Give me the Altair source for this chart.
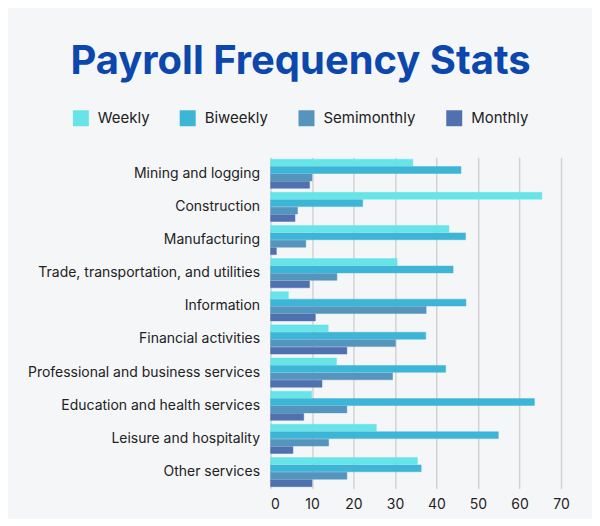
import altair as alt
import pandas as pd

industries = [
    "Mining and logging",
    "Construction",
    "Manufacturing",
    "Trade, transportation, and utilities",
    "Information",
    "Financial activities",
    "Professional and business services",
    "Education and health services",
    "Leisure and hospitality",
    "Other services",
]
series = ["Weekly", "Biweekly", "Semimonthly", "Monthly"]
weekly = [34.3, 65.4, 43.0, 30.5, 4.3, 13.9, 15.9, 9.9, 25.5, 35.4]
biweekly = [45.9, 22.2, 47.0, 44.0, 47.1, 37.4, 42.2, 63.6, 54.9, 36.3]
semimonthly = [10.0, 6.5, 8.5, 16.0, 37.5, 30.1, 29.4, 18.4, 14.0, 18.4]
monthly = [9.4, 5.9, 1.4, 9.4, 10.8, 18.4, 12.4, 8.0, 5.4, 10.0]
colors = ["#67e4e8", "#3db5d7", "#5595bd", "#4f71ae"]
x_ticks = [0, 10, 20, 30, 40, 50, 60, 70]

rows = []
for name, vals in zip(series, [weekly, biweekly, semimonthly, monthly]):
    for ind, v in zip(industries, vals):
        rows.append({"Industry": ind, "Frequency": name, "Value": v})
df = pd.DataFrame(rows)

font = "Inter"

chart = (
    alt.Chart(df)
    .mark_bar(strokeWidth=0.8, strokeOpacity=0.6)
    .encode(
        x=alt.X(
            "Value:Q",
            scale=alt.Scale(domain=[0, 77], nice=False),
            axis=alt.Axis(
                values=x_ticks,
                title=None,
                grid=True,
                gridColor="#d3d3d6",
                gridWidth=1.5,
                domain=False,
                ticks=False,
                labelPadding=9,
                labelFont=font,
                labelFontSize=14,
                labelColor="#222222",
            ),
        ),
        y=alt.Y(
            "Industry:N",
            sort=industries,
            scale=alt.Scale(paddingInner=0.12, paddingOuter=0.06),
            axis=alt.Axis(
                title=None,
                domain=False,
                ticks=False,
                labelPadding=11,
                labelFont=font,
                labelFontSize=14,
                labelColor="#222222",
                labelLimit=300,
            ),
        ),
        yOffset=alt.YOffset(
            "Frequency:N", sort=series, scale=alt.Scale(paddingInner=0.08)
        ),
        color=alt.Color(
            "Frequency:N",
            sort=series,
            scale=alt.Scale(domain=series, range=colors),
            legend=alt.Legend(
                title=None,
                orient="none",
                direction="horizontal",
                legendX=-198,
                legendY=-47,
                symbolType="square",
                symbolSize=256,
                symbolStrokeWidth=0,
                symbolOpacity=1,
                labelFont=font,
                labelFontSize=15,
                labelColor="#222222",
                labelOffset=9,
                columnPadding=30,
            ),
        ),
        stroke=alt.Color("Frequency:N", sort=series, scale=alt.Scale(domain=series, range=colors), legend=None),
    )
    .properties(
        width=320,
        height=332,
        background="#f5f6f8",
        padding={"left": 263, "top": 149, "right": 2, "bottom": 30},
        autosize=alt.AutoSizeParams(type="none"),
        title=alt.TitleParams(
            "Payroll Frequency Stats",
            font=font,
            fontSize=40,
            fontWeight="bold",
            color="#0b47ad",
            anchor="middle",
            dx=-130,
            offset=-4,
            baseline="alphabetic",
        ),
    )
    .configure_view(stroke=None)
)

chart.save("out.html", embed_options={"renderer": "svg", "actions": False})
